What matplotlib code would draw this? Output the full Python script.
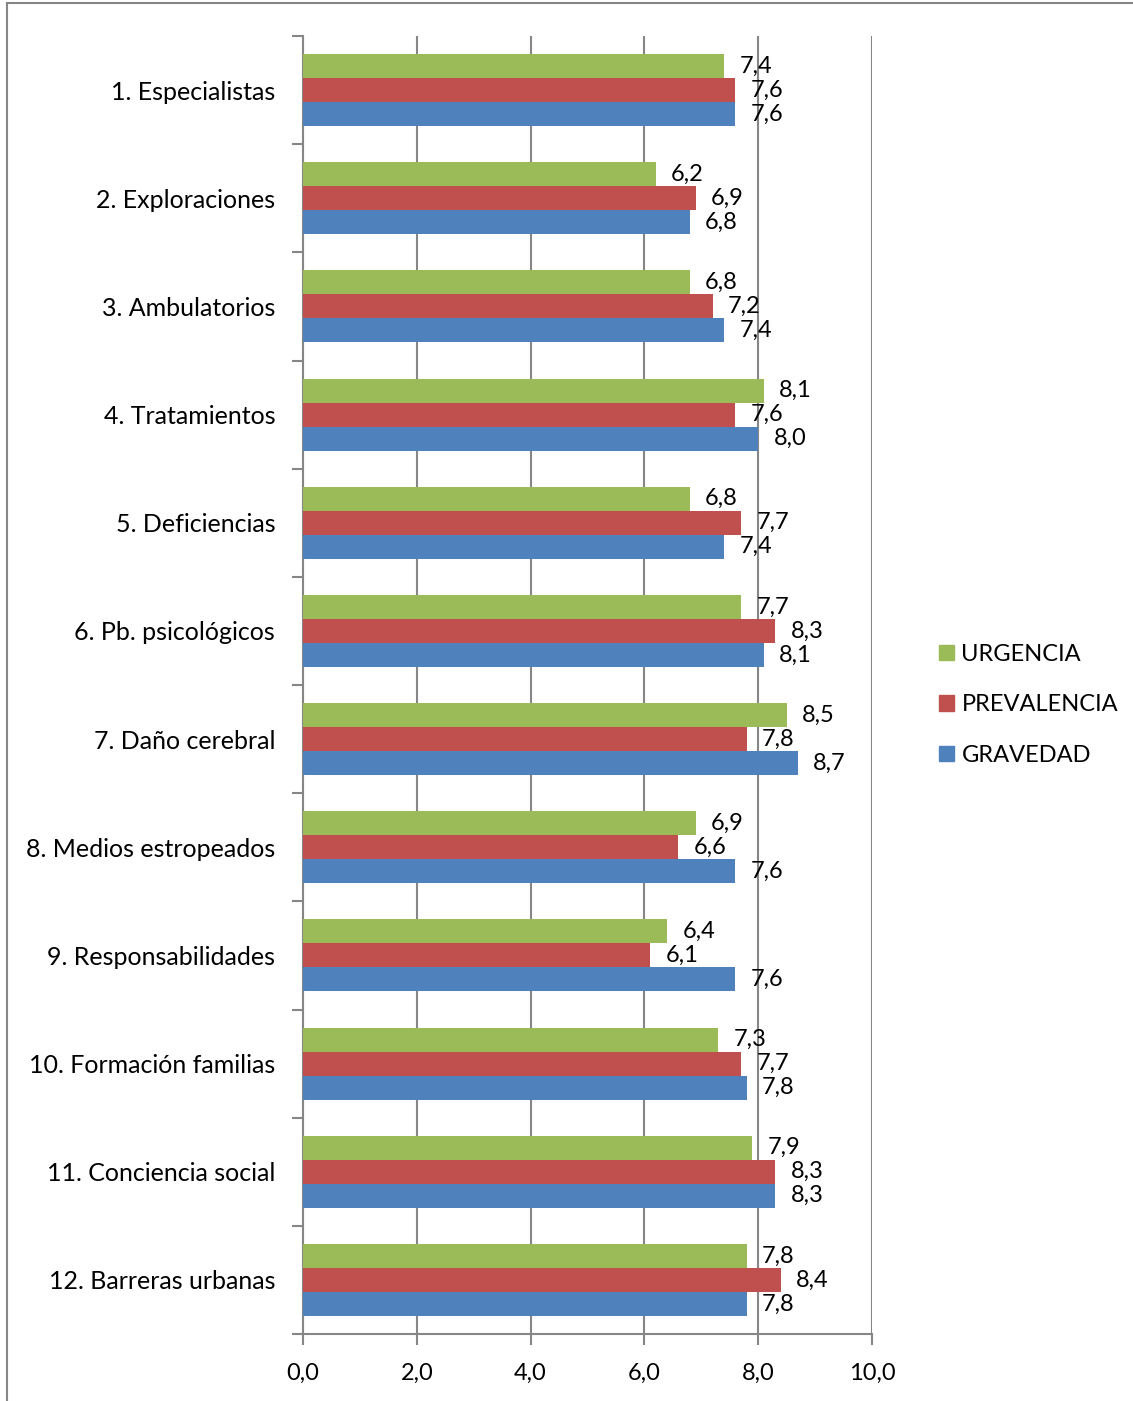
import matplotlib
matplotlib.use("Agg")
import matplotlib.pyplot as plt
from matplotlib.lines import Line2D
from matplotlib.patches import Patch
import numpy as np

plt.rcParams['font.family'] = ['Lato', 'DejaVu Sans']

categories = [
    "1. Especialistas", "2. Exploraciones", "3. Ambulatorios", "4. Tratamientos",
    "5. Deficiencias", "6. Pb. psicológicos", "7. Daño cerebral",
    "8. Medios estropeados", "9. Responsabilidades", "10. Formación familias",
    "11. Conciencia social", "12. Barreras urbanas",
]
urgencia = [7.4, 6.2, 6.8, 8.1, 6.8, 7.7, 8.5, 6.9, 6.4, 7.3, 7.9, 7.8]
prevalencia = [7.6, 6.9, 7.2, 7.6, 7.7, 8.3, 7.8, 6.6, 6.1, 7.7, 8.3, 8.4]
gravedad = [7.6, 6.8, 7.4, 8.0, 7.4, 8.1, 8.7, 7.6, 7.6, 7.8, 8.3, 7.8]
x_ticks = [0, 2, 4, 6, 8, 10]

series = [
    ("URGENCIA", urgencia, "#9BBB59"),
    ("PREVALENCIA", prevalencia, "#C0504D"),
    ("GRAVEDAD", gravedad, "#4F81BD"),
]

fig = plt.figure(figsize=(11.33, 14.01), dpi=100)
ax = fig.add_axes([0.2674, 0.0478, 0.5022, 0.9265])

grid_col = "#868686"
y = np.arange(len(categories))
h = 0.222
for k, (name, vals, col) in enumerate(series):
    pos = y + (k - 1) * h
    ax.barh(pos, vals, height=h, color=col, label=name, zorder=3)
    for p, v in zip(pos, vals):
        ax.annotate(f"{v:.1f}".replace(".", ","), (v, p), xytext=(11, 0),
                    textcoords="offset points", va="center", ha="left",
                    fontsize=17, color="black", zorder=5)

ax.set_xlim(0, 10)
ax.set_ylim(len(categories) - 0.5, -0.5)
ax.set_xticks(x_ticks)
ax.set_xticklabels([f"{t:.1f}".replace(".", ",") for t in x_ticks], fontsize=17)
ax.set_yticks(y)
ax.set_yticklabels(categories, fontsize=18)
ax.set_yticks(np.arange(len(categories) + 1) - 0.5, minor=True)
ax.tick_params(axis="y", which="major", length=0, pad=20)
ax.tick_params(axis="y", which="minor", length=8, width=1.5, color=grid_col)
ax.tick_params(axis="x", length=8, width=1.5, color=grid_col, pad=13)

ax.xaxis.grid(True, color=grid_col, linewidth=1.5, zorder=0)
ax.set_axisbelow(True)
for s in ["top", "right"]:
    ax.spines[s].set_visible(False)
for s in ["left", "bottom"]:
    ax.spines[s].set_color(grid_col)
    ax.spines[s].set_linewidth(1.5)

handles = [Patch(color=c, label=n) for n, _, c in series]
fig.legend(handles=handles, loc="center left", bbox_to_anchor=(0.81, 0.497),
           frameon=False, fontsize=17, handlelength=0.65, handleheight=0.65,
           handletextpad=0.3, labelspacing=1.25)

# outer frame lines
fig.add_artist(Line2D([7 / 1133, 7 / 1133], [0, 1 - 3 / 1401],
                      transform=fig.transFigure, color=grid_col, linewidth=1.5))
fig.add_artist(Line2D([7 / 1133, 1], [1 - 3 / 1401, 1 - 3 / 1401],
                      transform=fig.transFigure, color=grid_col, linewidth=1.5))

fig.savefig("out.png", dpi=100)
